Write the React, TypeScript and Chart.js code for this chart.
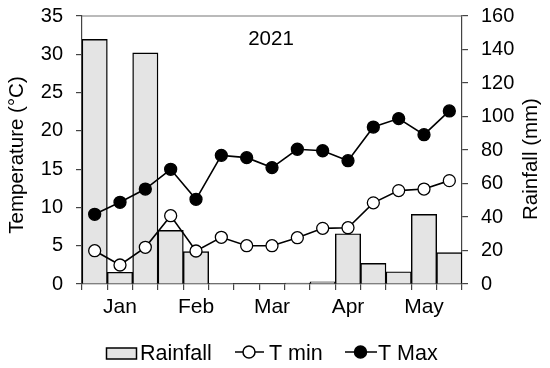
import { useEffect, useRef } from 'react';
import { Chart, registerables } from 'chart.js';

Chart.register(...registerables);

const categories = ['', 'Jan', '', '', 'Feb', '', '', 'Mar', '', '', 'Apr', '', '', 'May', ''];
const rainfall = [146, 7, 138, 32, 19.3, 0.4, 0, 0, 0.5, 1.3, 30, 12.3, 7.3, 41.6, 18.7];
const tMin = [4.35, 2.48, 4.79, 8.92, 4.31, 6.1, 5.0, 5.0, 6.05, 7.27, 7.35, 10.6, 12.2, 12.4, 13.5];
const tMax = [9.1, 10.67, 12.4, 14.98, 11.06, 16.8, 16.5, 15.2, 17.6, 17.4, 16.1, 20.5, 21.6, 19.5, 22.6];
const seriesNames = ['Rainfall', 'T min', 'T Max'];
const titleText = '2021';
const leftAxisTitle = 'Temperature (°C)';
const rightAxisTitle = 'Rainfall (mm)';

const FONT = '"Liberation Sans", Arial, sans-serif';
const BAR_FILL = '#e4e4e4';

const decorPlugin = {
  id: 'decor',
  afterDraw(chart: any) {
    const ctx = chart.ctx as CanvasRenderingContext2D;
    const ca = chart.chartArea;
    ctx.save();
    // top frame line
    ctx.strokeStyle = '#777';
    ctx.lineWidth = 1.2;
    ctx.beginPath();
    ctx.moveTo(ca.left, ca.top);
    ctx.lineTo(ca.right, ca.top);
    ctx.stroke();

    ctx.fillStyle = '#000';
    ctx.font = `20.5px ${FONT}`;
    ctx.textAlign = 'center';
    ctx.textBaseline = 'alphabetic';
    ctx.fillText(titleText, 271, 45);

    // axis titles
    ctx.save();
    ctx.translate(22.5, 155);
    ctx.rotate(-Math.PI / 2);
    ctx.fillText(leftAxisTitle, 0, 0);
    ctx.restore();
    ctx.save();
    ctx.translate(536.5, 159);
    ctx.rotate(-Math.PI / 2);
    ctx.fillText(rightAxisTitle, 0, 0);
    ctx.restore();

    // legend
    ctx.textAlign = 'left';
    ctx.font = `21.5px ${FONT}`;
    ctx.lineWidth = 1.5;
    ctx.strokeStyle = '#000';
    ctx.fillStyle = BAR_FILL;
    ctx.fillRect(106.5, 348, 30, 11);
    ctx.strokeRect(106.5, 348, 30, 11);
    ctx.fillStyle = '#000';
    ctx.fillText(seriesNames[0], 140, 359.5);

    const drawLineItem = (x0: number, x1: number, cx: number, filled: boolean, label: string, tx: number) => {
      ctx.beginPath();
      ctx.moveTo(x0, 352);
      ctx.lineTo(x1, 352);
      ctx.stroke();
      ctx.beginPath();
      ctx.arc(cx, 352, 6, 0, Math.PI * 2);
      ctx.fillStyle = filled ? '#000' : '#fff';
      ctx.fill();
      ctx.stroke();
      ctx.fillStyle = '#000';
      ctx.fillText(label, tx, 359.5);
    };
    drawLineItem(235, 264, 249, false, seriesNames[1], 269);
    drawLineItem(345, 377, 360.5, true, seriesNames[2], 378);
    ctx.restore();
  },
};

const fixY = (width: number) => (scale: any) => {
  scale.width = width;
  scale.paddingTop = 0;
  scale.paddingBottom = 0;
};

export default function App() {
  const ref = useRef<HTMLCanvasElement | null>(null);
  useEffect(() => {
    if (!ref.current) return;
    Chart.defaults.font.family = FONT;
    const chart = new Chart(ref.current, {
      type: 'bar',
      data: {
        labels: categories,
        datasets: [
          {
            type: 'bar',
            label: seriesNames[0],
            data: rainfall,
            yAxisID: 'y1',
            backgroundColor: BAR_FILL,
            borderColor: '#000',
            borderWidth: 1.4,
            barPercentage: 1,
            categoryPercentage: 1,
            order: 3,
          } as any,
          {
            type: 'line',
            label: seriesNames[1],
            data: tMin,
            yAxisID: 'y',
            borderColor: '#000',
            borderWidth: 1.6,
            pointRadius: 6,
            pointBackgroundColor: '#fff',
            pointBorderColor: '#000',
            pointBorderWidth: 1.3,
            tension: 0,
            order: 2,
          } as any,
          {
            type: 'line',
            label: seriesNames[2],
            data: tMax,
            yAxisID: 'y',
            borderColor: '#000',
            borderWidth: 1.6,
            pointRadius: 6,
            pointBackgroundColor: '#000',
            pointBorderColor: '#000',
            pointBorderWidth: 1.3,
            tension: 0,
            order: 1,
          } as any,
        ],
      },
      options: {
        responsive: false,
        animation: false,
        layout: { padding: { top: 16, left: 0, right: 0, bottom: 0 } },
        plugins: {
          legend: { display: false },
          tooltip: { enabled: false },
          title: { display: false },
        },
        scales: {
          x: {
            offset: true,
            grid: {
              offset: true,
              drawOnChartArea: false,
              drawTicks: true,
              tickLength: 6,
              color: '#444',
              lineWidth: 1.2,
            },
            border: { color: '#444', width: 1.2 },
            ticks: {
              autoSkip: false,
              maxRotation: 0,
              minRotation: 0,
              color: '#000',
              font: { size: 21 },
              padding: 5,
            },
            afterFit: (scale: any) => {
              scale.height = 84;
              scale.paddingLeft = 0;
              scale.paddingRight = 0;
            },
          },
          y: {
            position: 'left',
            min: 0,
            max: 35,
            ticks: { stepSize: 5, color: '#000', font: { size: 20 }, padding: 13 },
            grid: { drawOnChartArea: false, tickLength: 6, color: '#444', lineWidth: 1.2 },
            border: { color: '#444', width: 1.2 },
            afterFit: fixY(82),
          },
          y1: {
            position: 'right',
            min: 0,
            max: 160,
            ticks: { stepSize: 20, color: '#000', font: { size: 20 }, padding: 13 },
            grid: { drawOnChartArea: false, tickLength: 6, color: '#444', lineWidth: 1.2 },
            border: { color: '#444', width: 1.2 },
            afterFit: fixY(88),
          },
        },
      },
      plugins: [decorPlugin],
    });
    return () => chart.destroy();
  }, []);
  return (
    <div style={{ position: 'fixed', left: 0, top: 0, width: 550, height: 368, background: '#fff' }}>
      <canvas ref={ref} width={550} height={368} style={{ display: 'block' }} />
    </div>
  );
}
